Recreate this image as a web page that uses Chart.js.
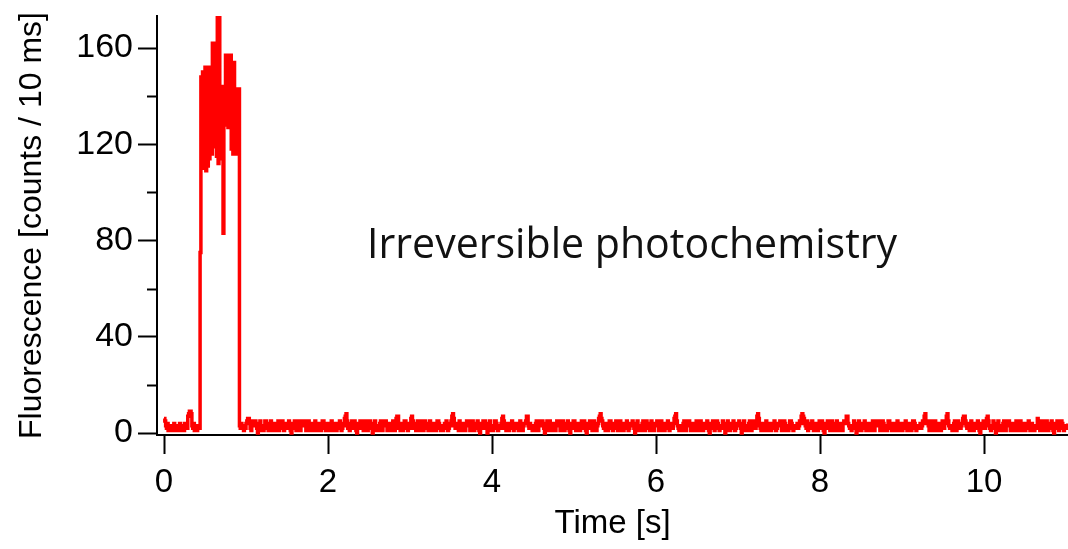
<!DOCTYPE html>
<html>
<head>
<meta charset="utf-8">
<script src="https://cdn.jsdelivr.net/npm/chart.js@4.4.1/dist/chart.umd.min.js"></script>
<style>
  html, body { margin: 0; padding: 0; background: #fff; }
  #wrap { width: 1068px; height: 549px; }
</style>
</head>
<body>
<div id="wrap"><canvas id="trace" width="1068" height="549"></canvas></div>
<script>
// photon counts in 10 ms bins, starting at t = 0
var binWidth = 0.01;

var preCounts = [
  6,5,3,2,4,1,3,2,3,1, 3,2,4,1,2,3,1,3,2,4, 1,3,2,3,1,4,2,3,2,7, 8,9,9,8,3,2,4,1,3,2, 1,3,2,2
];
var burstCounts = [
  75,148,112,150,110,150,152,109,152,111, 152,114,152,134,116,162,119,162,122,162,
  115,173,112,173,125,144,114,140,83,144, 130,157,128,157,127,157,130,157,118,154,
  116,154,120,143,116,143,125,143
];
var tail1 = [
  3,2,4,3,2,1,3,2,
  4,5,6,6,4,2,1,3,5,4, 3,5,4,2,0,2,4,5,3,1, 2,1,3,5,5,4,2,1,3,2, 5,3,1,2,4,4,2,1,4,5,
  1,3,4,2,5,3,1,2,4,3, 2,4,5,3,1,0,3,4,2,5, 3,1,2,4,5,2,1,3,5,4, 4,5,3,1,2,3,5,4,1,2,
  4,2,1,3,5,4,2,1,3,4, 2,1,3,5,5,4,2,1,3,2
];
var tail2 = [
  4,2,1,3,5,4,2,1,3,4, 1,3,4,2,5,3,1,2,4,3, 6,7,8,5,2,3,1,4,2,5, 2,4,5,3,1,0,3,4,2,5,
  4,5,3,1,2,3,5,4,1,2, 3,5,4,2,0,2,4,5,3,1, 3,1,2,4,5,2,1,3,5,4, 5,3,1,2,4,4,2,1,4,5,
  3,1,2,6,7,7,3,2,1,4, 2,1,3,5,5,4,2,1,3,2
];
var tail3 = [
  4,6,7,5,2,4,3,1,2,5, 3,1,2,4,5,2,1,3,5,4, 4,2,1,3,5,4,2,1,3,4, 2,1,3,5,5,4,2,1,3,2,
  1,3,4,2,5,3,1,2,4,3, 5,7,8,6,3,2,4,2,3,1, 5,3,1,2,4,4,2,1,4,5, 4,5,3,1,2,3,5,4,1,2,
  2,4,5,3,1,0,3,4,2,5, 3,5,4,2,0,2,4,5,3,1
];
var tail4 = [
  2,1,3,5,5,4,2,1,3,2, 2,4,6,7,5,2,3,1,3,4, 1,3,4,2,5,3,1,2,4,3, 4,2,1,3,5,4,2,1,3,4,
  4,5,7,7,3,2,4,3,2,1, 3,1,2,4,5,2,1,3,5,4, 3,5,4,2,0,2,4,5,3,1, 5,3,1,2,4,4,2,1,4,5,
  4,5,3,1,2,3,5,4,1,2, 2,4,5,3,1,0,3,4,2,5
];
var tail5 = [
  5,3,1,2,4,4,2,1,4,5, 2,4,5,3,1,0,3,4,2,5, 4,2,1,3,5,4,2,1,3,4, 6,7,8,6,5,3,2,3,1,4,
  2,1,3,5,5,4,2,1,3,2, 4,5,3,1,2,3,5,4,1,2, 1,3,4,2,5,3,1,2,4,3, 3,5,4,2,0,2,4,5,3,1,
  3,1,2,4,5,2,1,3,5,4, 4,2,1,3,5,4,2,1,3,4
];
var tail6 = [
  4,5,3,1,2,3,5,4,1,2, 1,3,4,2,5,3,1,2,4,3, 2,4,6,7,8,5,3,2,1,3, 3,1,2,4,5,2,1,3,5,4,
  5,3,1,2,4,4,2,1,4,5, 4,2,1,3,5,4,2,1,3,4, 2,4,5,3,1,0,3,4,2,5, 2,1,3,5,5,4,2,1,3,2,
  3,5,4,2,0,2,4,5,3,1, 1,3,4,2,5,3,1,2,4,3
];
var tail7 = [
  3,5,4,2,0,2,4,5,3,1, 3,1,2,4,5,2,1,3,5,4, 3,2,4,7,8,6,3,2,1,3, 4,2,1,3,5,4,2,1,3,4,
  1,3,4,2,5,3,1,2,4,3, 4,5,3,1,2,3,5,4,1,2, 2,1,3,5,5,4,2,1,3,2, 2,3,4,2,3,5,4,7,8,7,
  6,4,3,2,5,1,2,4,3,2, 5,3,1,2,4,4,2,1,4,5
];
var tail8 = [
  2,4,5,3,1,0,3,4,2,5, 4,2,1,3,5,4,2,1,3,4, 5,3,1,2,4,4,2,1,4,5, 4,5,7,7,4,3,2,3,1,3,
  3,5,4,2,0,2,4,5,3,1, 1,3,4,2,5,3,1,2,4,3, 3,1,2,4,5,2,1,3,5,4, 4,5,3,1,2,3,5,4,1,2,
  2,1,3,5,5,4,2,1,3,2, 4,2,1,3,5,4,2,1,3,4
];
var tail9 = [
  1,3,4,2,5,3,1,2,4,3, 2,1,3,5,5,4,2,1,3,2, 2,3,4,2,3,5,4,7,8,5, 4,5,3,1,2,3,5,4,1,2,
  5,3,1,2,4,4,2,1,4,5, 3,2,4,5,7,8,5,3,2,3, 3,1,2,4,5,2,1,3,5,4, 3,2,3,4,6,7,7,5,3,2,
  4,2,1,3,5,4,2,1,3,4, 2,4,5,3,1,0,3,4,2,5
];
var tail10 = [
  3,2,4,6,7,5,3,2,1,3, 3,5,4,2,0,2,4,5,3,1, 3,1,2,4,5,2,1,3,5,4, 5,3,1,2,4,4,2,1,4,5,
  4,2,1,3,5,4,2,1,3,4, 1,3,4,2,5,3,1,2,4,3, 3,1,2,3,2,6,5,3,1,3, 4,5,3,1,2,3,5,4,1,2,
  2,4,5,3,1,0,3,4,2,5, 2,1,3,5,5,4,2,1,3,2, 3,2,4
];

var xTicks = [0, 2, 4, 6, 8, 10];
var yMajor = [0, 40, 80, 120, 160];
var yMinor = [20, 60, 100, 140];
var xTitle = 'Time [s]';
var yTitle = 'Fluorescence [counts / 10 ms]';
var note = 'Irreversible photochemistry';

var counts = preCounts.concat(burstCounts, tail1, tail2, tail3, tail4, tail5,
                              tail6, tail7, tail8, tail9, tail10);
var points = counts.map(function (c, i) { return { x: i * binWidth, y: c }; });

var axisFont = { family: '"Liberation Sans", Arial, sans-serif', size: 33 };

// minor ticks on the y axis + the text label
var extras = {
  id: 'extras',
  afterDraw: function (chart) {
    var ctx = chart.ctx;
    var ys = chart.scales.y;
    ctx.save();
    ctx.strokeStyle = '#000';
    ctx.lineWidth = 2;
    yMinor.forEach(function (v) {
      var py = Math.round(ys.getPixelForValue(v)) + 0.5;
      ctx.beginPath();
      ctx.moveTo(ys.right - 10, py);
      ctx.lineTo(ys.right, py);
      ctx.stroke();
    });
    ctx.font = '400 40px "Open Sans"';
    var w = ctx.measureText(note).width;
    var size = 40 * 530 / w;
    ctx.font = '400 ' + size.toFixed(1) + 'px "Open Sans"';
    ctx.fillStyle = '#111';
    ctx.textBaseline = 'alphabetic';
    ctx.fillText(note, 367, 258);
    ctx.restore();
  }
};

new Chart(document.getElementById('trace'), {
  type: 'line',
  data: {
    datasets: [{
      data: points,
      borderColor: '#ff0000',
      borderWidth: 3.5,
      pointRadius: 0,
      stepped: true,
      fill: false
    }]
  },
  options: {
    responsive: false,
    animation: false,
    devicePixelRatio: 1,
    layout: { padding: { top: 16, right: 0, left: 0, bottom: 0 } },
    plugins: { legend: { display: false }, tooltip: { enabled: false } },
    scales: {
      x: {
        type: 'linear',
        min: -0.0854,
        max: 11.024,
        afterBuildTicks: function (s) { s.ticks = xTicks.map(function (v) { return { value: v }; }); },
        afterFit: function (s) { s.height = 114; s.paddingLeft = 0; s.paddingRight = 0; },
        ticks: { font: axisFont, color: '#000', padding: 9, maxRotation: 0, autoSkip: false },
        grid: { drawOnChartArea: false, drawTicks: true, tickLength: 19, tickWidth: 2, tickColor: '#000' },
        border: { display: true, color: '#000', width: 2 },
        title: { display: true, text: xTitle, font: axisFont, color: '#000', padding: { top: 0, bottom: 5 } }
      },
      y: {
        type: 'linear',
        min: -0.83,
        max: 173.3,
        afterBuildTicks: function (s) { s.ticks = yMajor.map(function (v) { return { value: v }; }); },
        afterFit: function (s) { s.width = 157; s.paddingTop = 0; s.paddingBottom = 0; },
        ticks: { font: { family: axisFont.family, size: 34 }, color: '#000', padding: 5 },
        grid: { drawOnChartArea: false, drawTicks: true, tickLength: 19, tickWidth: 2, tickColor: '#000' },
        border: { display: true, color: '#000', width: 2 },
        title: { display: true, text: yTitle, font: { family: axisFont.family, size: 32 }, color: '#000', padding: { top: 13, bottom: 0 } }
      }
    }
  },
  plugins: [extras]
});
</script>
</body>
</html>
